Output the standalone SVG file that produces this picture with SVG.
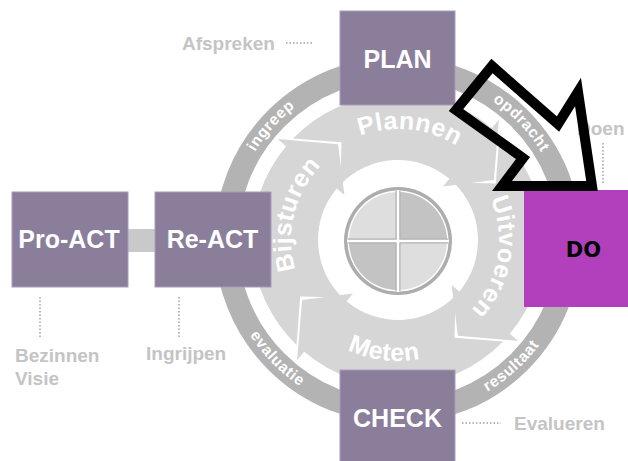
<svg xmlns="http://www.w3.org/2000/svg" width="628" height="461" viewBox="0 0 628 461">
<defs>
<style>
.box{fill:#8a7e9b;stroke:#a69dba;stroke-width:1}
.bt{font-family:"Liberation Sans",Arial,sans-serif;font-weight:bold;font-size:25px;fill:#ffffff;text-anchor:middle}
.lbl{font-family:"Liberation Sans",Arial,sans-serif;font-weight:bold;font-size:19px;fill:#c4c4c4}
.dot{stroke:#b8b8b8;stroke-width:2;stroke-dasharray:1.5 2;fill:none}
.arr{fill:#d6d6d6}
.at{font-family:"Liberation Sans",Arial,sans-serif;font-weight:bold;font-size:25px;fill:#ffffff;text-anchor:middle;letter-spacing:0.5px}
.rt{font-family:"Liberation Sans",Arial,sans-serif;font-weight:bold;font-size:15.5px;fill:#ffffff;text-anchor:middle;letter-spacing:0.7px}
</style>
<path id="arrow" d="M -105.02 -101.42 A 146 146 0 0 1 93.85 -111.84 L 100.92 -120.27 L 95.83 -59.88 L 45 -53.62 L 51.42 -61.28 A 80 80 0 0 0 -57.55 -55.57 L -56.5 -97.86 Z"/>
<path id="cw111" d="M -111 0 A 111 111 0 0 1 111 0"/>
<path id="cw101" d="M -101 0 A 101 101 0 0 1 101 0"/>
<path id="cw107" d="M -107 0 A 107 107 0 0 1 107 0"/>
<path id="ccw121" d="M -121 0 A 121 121 0 0 0 121 0"/>
<path id="cw168" d="M -168 0 A 168 168 0 0 1 168 0"/>
<path id="ccw176" d="M -176 0 A 176 176 0 0 0 176 0"/>
</defs>

<g id="cycle">
  <circle cx="398" cy="240" r="172" fill="none" stroke="#b3b3b3" stroke-width="23"/>
  <g id="cycle-arrows" class="arr">
    <use href="#arrow" transform="translate(398 240)"/>
    <use href="#arrow" transform="translate(398 240) rotate(90)"/>
    <use href="#arrow" transform="translate(398 240) rotate(180)"/>
    <use href="#arrow" transform="translate(398 240) rotate(270)"/>
  </g>
  <g transform="translate(398 240) rotate(6)"><text class="at"><textPath href="#cw111" startOffset="50%">Plannen</textPath></text></g>
  <g transform="translate(398 240) rotate(100)"><text class="at"><textPath href="#cw101" startOffset="50%">Uitvoeren</textPath></text></g>
  <g transform="translate(398 240) rotate(7)"><text class="at"><textPath href="#ccw121" startOffset="50%">Meten</textPath></text></g>
  <g transform="translate(398 240) rotate(-76)"><text class="at"><textPath href="#cw107" startOffset="50%">Bijsturen</textPath></text></g>
  <g transform="translate(398 240) rotate(-48)"><text class="rt"><textPath href="#cw168" startOffset="50%">ingreep</textPath></text></g>
  <g transform="translate(398 240) rotate(46.5)"><text class="rt"><textPath href="#cw168" startOffset="50%">opdracht</textPath></text></g>
  <g transform="translate(398 240) rotate(-42)"><text class="rt"><textPath href="#ccw176" startOffset="50%">resultaat</textPath></text></g>
  <g transform="translate(398 240) rotate(45.5)"><text class="rt"><textPath href="#ccw176" startOffset="50%">evaluatie</textPath></text></g>
  <g id="pie">
    <circle cx="398" cy="241" r="54" fill="#adadad"/>
    <circle cx="398" cy="241" r="50.5" fill="#ffffff"/>
    <circle cx="398" cy="241" r="49" fill="#dedede"/>
    <path d="M 398 241 L 398 192 A 49 49 0 0 1 447 241 Z" fill="#c3c3c3"/>
    <path d="M 398 241 L 398 290 A 49 49 0 0 1 349 241 Z" fill="#c3c3c3"/>
    <path d="M 398 191 L 398 291 M 348 241 L 448 241" stroke="#b0b0b0" stroke-width="5"/>
    <path d="M 398 190 L 398 292 M 347 241 L 449 241" stroke="#ffffff" stroke-width="2.5"/>
  </g>
</g>

<g id="connectors">
  <rect x="128" y="229" width="27" height="23" fill="#c9c9c9"/>
  <line class="dot" x1="286" y1="43" x2="313" y2="43"/>
  <line class="dot" x1="462" y1="423" x2="501" y2="423"/>
  <line class="dot" x1="40" y1="297" x2="40" y2="337"/>
  <line class="dot" x1="179" y1="297" x2="179" y2="337"/>
  <line class="dot" x1="603" y1="143" x2="603" y2="185"/>
</g>

<g id="node-plan"><rect class="box" x="340" y="11" width="115" height="94"/><text class="bt" x="397.5" y="68">PLAN</text></g>
<g id="node-check"><rect class="box" x="340" y="370" width="115" height="95"/><text class="bt" x="397.5" y="427">CHECK</text></g>
<g id="node-proact"><rect class="box" x="12" y="192" width="116" height="95"/><text class="bt" x="69" y="248">Pro-ACT</text></g>
<g id="node-react"><rect class="box" x="155" y="192" width="116" height="95"/><text class="bt" x="212.5" y="248">Re-ACT</text></g>
<g id="node-do"><rect x="524" y="190" width="106" height="117" fill="#b23fbc"/><text x="583.5" y="257" font-family="'DejaVu Sans',sans-serif" font-weight="bold" font-size="21" fill="#000000" text-anchor="middle">DO</text></g>

<g id="labels">
  <text class="lbl" x="182" y="50">Afspreken</text>
  <text class="lbl" x="15" y="362">Bezinnen</text>
  <text class="lbl" x="15" y="385">Visie</text>
  <text class="lbl" x="146" y="360">Ingrijpen</text>
  <text class="lbl" x="514" y="430">Evalueren</text>
  <text class="lbl" x="577" y="135">Doen</text>
</g>

<g id="highlight-arrow">
  <polygon points="492,66 456,110 523,158 502,186 592,186 578,92 558,124" fill="none" stroke="#000000" stroke-width="10" stroke-linejoin="miter" stroke-miterlimit="10"/>
</g>
</svg>
